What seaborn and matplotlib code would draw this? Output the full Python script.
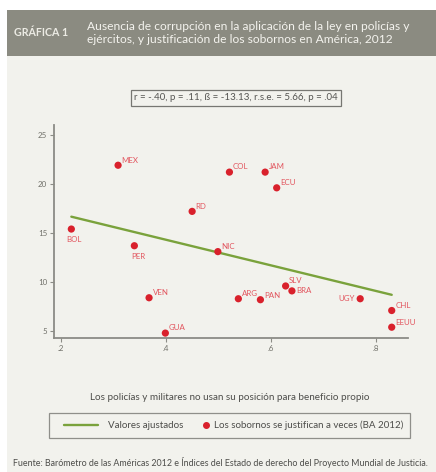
import matplotlib
matplotlib.use("Agg")
import matplotlib.pyplot as plt
from matplotlib.patches import Rectangle
from matplotlib.lines import Line2D
from matplotlib.legend_handler import HandlerLine2D
import seaborn as sns
import pandas as pd

# --- Data ---
countries = ["MEX", "BOL", "PER", "VEN", "GUA", "RD", "NIC", "COL", "JAM", "ECU",
             "ARG", "PAN", "SLV", "BRA", "UGY", "CHL", "EEUU"]
no_corruption = [0.309, 0.220, 0.340, 0.368, 0.399, 0.450, 0.499, 0.521, 0.589, 0.611,
                 0.538, 0.580, 0.628, 0.640, 0.770, 0.830, 0.830]
bribes_justified = [21.9, 15.4, 13.7, 8.4, 4.8, 17.2, 13.1, 21.2, 21.2, 19.6,
                    8.3, 8.2, 9.6, 9.1, 8.3, 7.1, 5.4]
fit_x = [0.22, 0.83]
fit_y = [16.66, 8.70]

x_ticks = [0.2, 0.4, 0.6, 0.8]
x_ticklabels = [".2", ".4", ".6", ".8"]
y_ticks = [5, 10, 15, 20, 25]

TITLE_1 = "Ausencia de corrupción en la aplicación de la ley en policías y"
TITLE_2 = "ejércitos, y justificación de los sobornos en América, 2012"
STATS = "r = -.40, p = .11, ß = -13.13, r.s.e. = 5.66, p = .04"
XLABEL = "Los policías y militares no usan su posición para beneficio propio"
LEG_LABELS = ["Valores ajustados", "Los sobornos se justifican a veces (BA 2012)"]
SOURCE = ("Fuente: Barómetro de las Américas 2012 e Índices del Estado de derecho "
          "del Proyecto Mundial de Justicia.")

# label offsets in points (dx, dy, ha, va)
label_pos = {
    "BOL": (-4, -5, "left", "top"),
    "PER": (-2, -5, "left", "top"),
    "UGY": (-4, 0, "right", "center"),
    "BRA": (3, 0, "left", "center"),
    "PAN": (2.5, 0.3, "left", "bottom"),
}

BG = "#f2f2ed"
RED = "#d9212c"
LABEL_RED = "#e2555e"
GREEN = "#7aa23c"
GREY = "#8c8c86"

sns.set_style("white")
plt.rcParams["font.family"] = ["Lato", "DejaVu Sans"]

df = pd.DataFrame({"pais": countries, "x": no_corruption, "y": bribes_justified})

fig = plt.figure(figsize=(4.36, 4.72), dpi=100)
fig.patch.set_facecolor("white")
renderer = fig.canvas.get_renderer()


def fit_size(s, width_px, **kw):
    """font size that makes s about width_px wide (the original face is condensed)"""
    t = fig.text(0, 0, s, fontsize=10, **kw)
    w = t.get_window_extent(renderer).width
    t.remove()
    return 10 * width_px / w


# light panel + grey header band
fig.add_artist(Rectangle((7 / 436, 0), 1, 1 - 56 / 472, transform=fig.transFigure,
                         facecolor=BG, edgecolor="none", zorder=0))
fig.add_artist(Rectangle((7 / 436, 1 - 56 / 472), 1, 46 / 472, transform=fig.transFigure,
                         facecolor="#8b8b81", edgecolor="none", zorder=0))
fig.text(14 / 436, 1 - 33 / 472, "GRÁFICA 1", color="#ecebe4",
         fontsize=fit_size("GRÁFICA 1", 54, fontweight="bold"),
         fontweight="bold", va="center", ha="left")
fig.text(87 / 436, 1 - 33 / 472, TITLE_1 + "\n" + TITLE_2,
         color="#f4f3ee", fontsize=fit_size(TITLE_1, 320), va="center", ha="left",
         linespacing=1.3)

ax = fig.add_axes([54 / 436, 1 - 338 / 472, 354 / 436, 213 / 472])
ax.set_facecolor(BG)

sns.lineplot(x=fit_x, y=fit_y, ax=ax, color=GREEN, linewidth=1.7, zorder=2)
sns.scatterplot(data=df, x="x", y="y", ax=ax, color=RED, s=27, edgecolor="none", zorder=3)

label_size = fit_size("MEX", 17)
for name, xv, yv in zip(countries, no_corruption, bribes_justified):
    dx, dy, ha, va = label_pos.get(name, (2.5, 1.2, "left", "bottom"))
    ax.annotate(name, (xv, yv), xytext=(dx, dy), textcoords="offset points",
                ha=ha, va=va, fontsize=label_size, color=LABEL_RED)

ax.set_xlim(0.187, 0.861)
ax.set_ylim(4.3, 26)
ax.set_xticks(x_ticks)
ax.set_xticklabels(x_ticklabels)
ax.set_yticks(y_ticks)
ax.set_xlabel("")
ax.set_ylabel("")
for side in ["top", "right"]:
    ax.spines[side].set_visible(False)
for side in ["left", "bottom"]:
    ax.spines[side].set_color(GREY)
    ax.spines[side].set_linewidth(1.3)
ax.tick_params(axis="both", colors=GREY, labelcolor="#707069", labelsize=label_size,
               length=3, width=0.8, direction="out", pad=2)
ax.tick_params(axis="both", bottom=True, left=True)

# stats box
fig.text(236 / 436, 1 - 98 / 472, STATS,
         ha="center", va="center", fontsize=fit_size(STATS, 204), color="#555552",
         bbox=dict(boxstyle="square,pad=0.35", facecolor=BG, edgecolor="#777772", linewidth=0.9))

fig.text(230 / 436, 1 - 398 / 472, XLABEL,
         ha="center", va="center", fontsize=fit_size(XLABEL, 280), color="#4d4d4a")

# legend: spacing given in pixels of the reference, turned into font units
leg_size = fit_size(LEG_LABELS[1], 191)
em_px = leg_size / 0.72
handle_w = 42
handles = [Line2D([], [], color=GREEN, linewidth=1.7),
           Line2D([], [], color=RED, marker="o", linestyle="none", markersize=4)]
leg = fig.legend(handles, LEG_LABELS,
                 loc="center", bbox_to_anchor=(229.5 / 436, 1 - 425.5 / 472), ncol=2,
                 fontsize=leg_size, frameon=True, fancybox=False, edgecolor="#777772",
                 facecolor=BG, handlelength=handle_w / em_px, handletextpad=10 / em_px,
                 columnspacing=-22 / em_px, borderpad=0.75, borderaxespad=0,
                 handler_map={handles[0]: HandlerLine2D(xpad=8 / em_px),
                              handles[1]: HandlerLine2D(numpoints=1,
                                                        xpad=(2 * 44 - handle_w) / em_px)})
leg.get_frame().set_linewidth(0.9)
for t in leg.get_texts():
    t.set_color("#4d4d4a")

fig.text(13 / 436, 1 - 463 / 472, SOURCE,
         ha="left", va="center", fontsize=fit_size(SOURCE, 417), color="#4d4d4a")

fig.savefig("out.png", dpi=100, facecolor=fig.get_facecolor())
